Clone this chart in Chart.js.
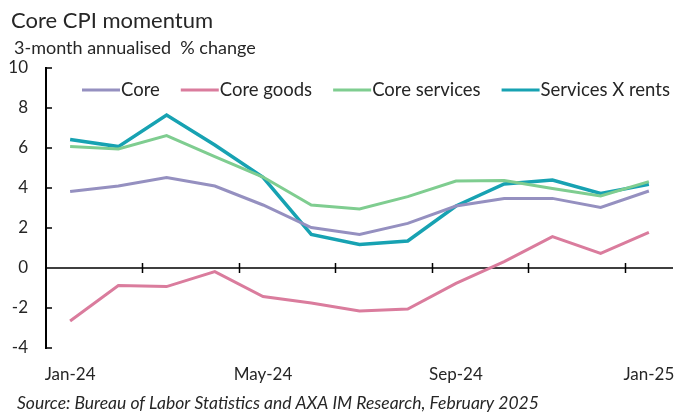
<!DOCTYPE html>
<html>
<head>
<meta charset="utf-8">
<title>Core CPI momentum</title>
<script src="https://cdn.jsdelivr.net/npm/chart.js@4"></script>
<style>
  html, body { margin: 0; padding: 0; background: #fff; }
  canvas { display: block; }
</style>
</head>
<body>
<canvas id="cpiChart" width="677" height="414"></canvas>
<script>
const months = ['Jan-24', 'Feb-24', 'Mar-24', 'Apr-24', 'May-24', 'Jun-24', 'Jul-24',
  'Aug-24', 'Sep-24', 'Oct-24', 'Nov-24', 'Dec-24', 'Jan-25'];
const core = [3.82, 4.1, 4.52, 4.1, 3.15, 2.02, 1.68, 2.23, 3.1, 3.48, 3.48, 3.03, 3.85];
const coreGoods = [-2.65, -0.88, -0.93, -0.18, -1.43, -1.75, -2.15, -2.05, -0.77, 0.32, 1.57, 0.73, 1.78];
const coreServices = [6.07, 5.95, 6.62, 5.57, 4.55, 3.15, 2.95, 3.57, 4.35, 4.37, 3.98, 3.6, 4.32];
const servicesXRents = [6.43, 6.07, 7.65, 6.15, 4.53, 1.68, 1.18, 1.35, 3.1, 4.2, 4.4, 3.73, 4.18];
const yTicks = [10, 8, 6, 4, 2, 0, -2, -4];

const FONT = 'Lato, "Open Sans", sans-serif';
const INK = '#262626';

// title, subtitle, source note, in-plot legend and the zero axis with its tick marks
const decorations = {
  id: 'decorations',
  beforeDatasetsDraw(chart) {
    const { ctx, chartArea, scales: { x, y } } = chart;
    const y0 = y.getPixelForValue(0);
    ctx.save();
    ctx.strokeStyle = '#000';
    ctx.lineWidth = 1.5;
    ctx.beginPath();
    ctx.moveTo(chartArea.left, y0);
    ctx.lineTo(chartArea.right, y0);
    // tick marks between every second month
    for (let i = 1; i < months.length - 1; i += 2) {
      const px = Math.round((x.getPixelForValue(i) + x.getPixelForValue(i + 1)) / 2) + 0.5;
      ctx.moveTo(px, y0 - 5);
      ctx.lineTo(px, y0 + 5);
    }
    // inward ticks on the value axis
    yTicks.forEach(v => {
      const py = y.getPixelForValue(v);
      ctx.moveTo(chartArea.left, py);
      ctx.lineTo(chartArea.left + 6, py);
    });
    ctx.stroke();
    ctx.restore();
  },
  afterDraw(chart) {
    const { ctx } = chart;
    ctx.save();
    ctx.fillStyle = INK;
    ctx.textBaseline = 'middle';
    ctx.textAlign = 'left';
    ctx.font = '22px ' + FONT;
    ctx.fillText('Core CPI momentum', 11, 21);
    ctx.font = '18px ' + FONT;
    ctx.fillText('3-month annualised  % change', 14, 48);
    ctx.font = 'italic 17.5px ' + FONT;
    ctx.fillText('Source: Bureau of Labor Statistics and AXA IM Research, February 2025', 17, 403);

    // legend row
    ctx.font = '18.5px ' + FONT;
    let lx = 82;
    const ly = 90;
    chart.data.datasets.forEach(ds => {
      ctx.strokeStyle = ds.borderColor;
      ctx.lineWidth = 3;
      ctx.beginPath();
      ctx.moveTo(lx, ly);
      ctx.lineTo(lx + 38, ly);
      ctx.stroke();
      lx += 39;
      ctx.fillText(ds.label, lx, ly);
      lx += ctx.measureText(ds.label).width + 21;
    });
    ctx.restore();
  }
};

const series = [
  { label: 'Core', data: core, color: '#9590c0', width: 3 },
  { label: 'Core goods', data: coreGoods, color: '#da7c9d', width: 3 },
  { label: 'Core services', data: coreServices, color: '#7fcd90', width: 3 },
  { label: 'Services X rents', data: servicesXRents, color: '#17a2b2', width: 3.5 }
];

new Chart(document.getElementById('cpiChart'), {
  type: 'line',
  data: {
    labels: months,
    datasets: series.map(s => ({
      label: s.label,
      data: s.data,
      borderColor: s.color,
      backgroundColor: s.color,
      borderWidth: s.width,
      pointRadius: 0,
      tension: 0,
      fill: false
    }))
  },
  options: {
    responsive: false,
    animation: false,
    layout: { padding: { top: 68, right: 4, bottom: 26, left: 0 } },
    plugins: {
      legend: { display: false },
      title: { display: false },
      tooltip: { enabled: false }
    },
    scales: {
      x: {
        offset: true,
        grid: { display: false },
        border: { display: false },
        ticks: {
          autoSkip: false,
          maxRotation: 0,
          padding: 8,
          color: INK,
          font: { family: FONT, size: 17 },
          callback: (v, i) => (i % 4 === 0 ? months[i] : '')
        },
        afterFit: s => {
          s.height = 40;
          s.paddingLeft = 0;
          s.paddingRight = 0;
        }
      },
      y: {
        min: -4,
        max: 10,
        grid: { display: false, drawTicks: false },
        border: { display: true, color: '#000', width: 2 },
        ticks: {
          stepSize: 2,
          padding: 18,
          color: INK,
          font: { family: FONT, size: 17 }
        },
        afterFit: s => { s.width = 46; }
      }
    }
  },
  plugins: [decorations]
});
</script>
</body>
</html>
